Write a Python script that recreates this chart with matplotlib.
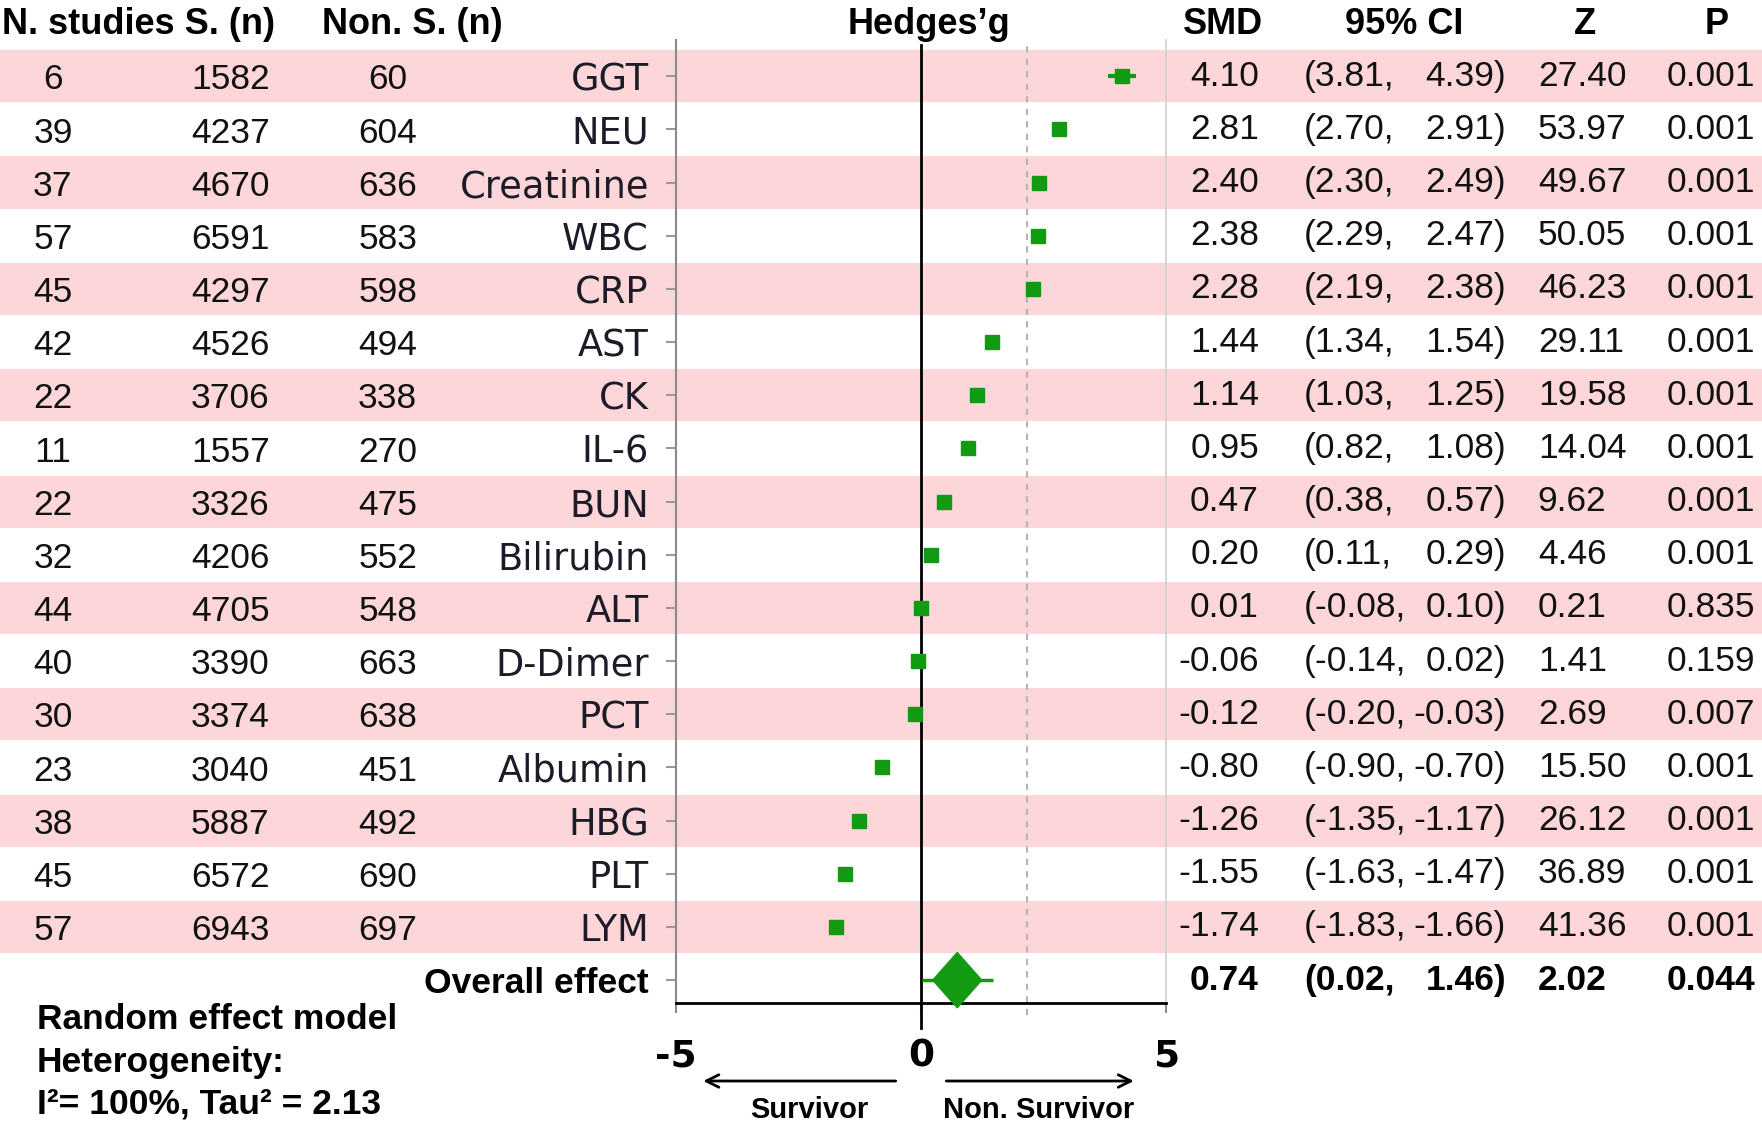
import matplotlib
matplotlib.use("Agg")
import matplotlib.pyplot as plt
from matplotlib.patches import Polygon

# ---------------- data ----------------
markers = ['GGT', 'NEU', 'Creatinine', 'WBC', 'CRP', 'AST', 'CK', 'IL-6', 'BUN',
           'Bilirubin', 'ALT', 'D-Dimer', 'PCT', 'Albumin', 'HBG', 'PLT', 'LYM']
n_studies = [6, 39, 37, 57, 45, 42, 22, 11, 22, 32, 44, 40, 30, 23, 38, 45, 57]
surv_n = [1582, 4237, 4670, 6591, 4297, 4526, 3706, 1557, 3326, 4206, 4705, 3390,
          3374, 3040, 5887, 6572, 6943]
nonsurv_n = [60, 604, 636, 583, 598, 494, 338, 270, 475, 552, 548, 663, 638, 451,
             492, 690, 697]
smd = [4.10, 2.81, 2.40, 2.38, 2.28, 1.44, 1.14, 0.95, 0.47, 0.20, 0.01, -0.06,
       -0.12, -0.80, -1.26, -1.55, -1.74]
ci_lo = [3.81, 2.70, 2.30, 2.29, 2.19, 1.34, 1.03, 0.82, 0.38, 0.11, -0.08, -0.14,
         -0.20, -0.90, -1.35, -1.63, -1.83]
ci_hi = [4.39, 2.91, 2.49, 2.47, 2.38, 1.54, 1.25, 1.08, 0.57, 0.29, 0.10, 0.02,
         -0.03, -0.70, -1.17, -1.47, -1.66]
z_vals = [27.40, 53.97, 49.67, 50.05, 46.23, 29.11, 19.58, 14.04, 9.62, 4.46, 0.21,
          1.41, 2.69, 15.50, 26.12, 36.89, 41.36]
p_vals = ['0.001', '0.001', '0.001', '0.001', '0.001', '0.001', '0.001', '0.001',
          '0.001', '0.001', '0.835', '0.159', '0.007', '0.001', '0.001', '0.001',
          '0.001']
overall_label = 'Overall effect'
overall_smd = 0.74
overall_lo = 0.02
overall_hi = 1.46
overall_z = 2.02
overall_p = '0.044'
ref_line = 2.16
x_ticks = [-5, 0, 5]

headers_left = ['N. studies S. (n)', 'Non. S. (n)']
header_mid = 'Hedges\u2019g'
headers_right = ['SMD', '95% CI', 'Z', 'P']
notes = ['Random effect model', 'Heterogeneity:', 'I\u00b2= 100%, Tau\u00b2 = 2.13']
arrow_labels = ['Survivor', 'Non. Survivor']

# ---------------- style ----------------
W, H = 1762, 1129
GREEN = '#139a13'
PINK = '#fcd6d9'
NUMFONT = 'Liberation Sans'
LABFONT = 'DejaVu Sans'

fig = plt.figure(figsize=(W / 100, H / 100), dpi=100)
fig.patch.set_facecolor('white')

n = len(markers)
rows = [n - i for i in range(n)]          # GGT at top (17) ... LYM (1)
overall_row = 0
ylim = (-0.43, n + 0.68)

ax_b, ax_t = 1 - 1003 / H, 1 - 40 / H
x_left, x_right = 676 / W, 1166 / W

# background axes for row bands and table text
bg = fig.add_axes([0, ax_b, 1, ax_t - ax_b])
bg.set_xlim(0, 1)
bg.set_ylim(*ylim)
bg.axis('off')
bg.set_zorder(0)
for i, r in enumerate(rows):
    if i % 2 == 0:
        bg.axhspan(r - 0.49, r + 0.49, color=PINK, lw=0)

# forest axes
ax = fig.add_axes([x_left, ax_b, x_right - x_left, ax_t - ax_b])
ax.set_zorder(1)
ax.patch.set_visible(False)
ax.set_xlim(-5, 5)
ax.set_ylim(*ylim)

# reference lines
ax.axvline(0, ymin=-0.026, ymax=0.995, color='black', lw=2, clip_on=False, zorder=2)
ax.axvline(ref_line, ymin=-0.0125, ymax=1, color='#b5b5b5', lw=1.5,
           ls=(0, (3, 3)), clip_on=False, zorder=1)

# study markers
ax.hlines(rows, ci_lo, ci_hi, color=GREEN, lw=3, zorder=3)
ax.plot(smd, rows, 's', color=GREEN, markersize=9.5, zorder=4)

# overall diamond
ax.hlines([overall_row], [overall_lo], [overall_hi], color=GREEN, lw=2.5, zorder=3)
dw, dh = 0.5, 0.52
diamond = Polygon([(overall_smd - dw, overall_row), (overall_smd, overall_row + dh),
                   (overall_smd + dw, overall_row), (overall_smd, overall_row - dh)],
                  closed=True, facecolor=GREEN, edgecolor=GREEN, zorder=4,
                  clip_on=False)
ax.add_patch(diamond)

# spines
ax.spines['top'].set_visible(False)
ax.spines['left'].set_color('#8a8a8a')
ax.spines['left'].set_linewidth(1.5)
ax.spines['right'].set_color('#cfcfcf')
ax.spines['right'].set_linewidth(1.2)
ax.spines['bottom'].set_color('black')
ax.spines['bottom'].set_linewidth(2)

# x ticks
ax.set_xticks(x_ticks)
ax.set_xticklabels([str(t) for t in x_ticks], fontfamily=LABFONT,
                   fontweight='bold', fontsize=27)
ax.tick_params(axis='x', length=7.5, width=1.5, color='#8a8a8a', pad=18)

# y tick labels (row names)
ax.set_yticks(rows + [overall_row])
ax.set_yticklabels(markers + [overall_label])
ax.tick_params(axis='y', length=7.5, width=1.5, color='#999999', pad=12)
for lab in ax.get_yticklabels():
    lab.set_fontfamily(LABFONT)
    lab.set_fontsize(26.5)
    lab.set_color('#1c1c28')
ov = ax.get_yticklabels()[-1]
ov.set_fontfamily(NUMFONT)
ov.set_fontweight('bold')
ov.set_fontsize(25.5)
ov.set_color('black')

# table columns
dy = -0.07
num_kw = dict(fontfamily=NUMFONT, fontsize=25.5, va='center', color='#111111')
x_nst, x_sn, x_nsn = 0.030, 0.1307, 0.220
x_smd, x_ci_l, x_ci_r, x_z, x_p = 0.7145, 0.740, 0.8548, 0.8728, 0.946
for i, r in enumerate(rows):
    bg.text(x_nst, r + dy, str(n_studies[i]), ha='center', **num_kw)
    bg.text(x_sn, r + dy, str(surv_n[i]), ha='center', **num_kw)
    bg.text(x_nsn, r + dy, str(nonsurv_n[i]), ha='center', **num_kw)
    bg.text(x_smd, r, f'{smd[i]:.2f}', ha='right', **num_kw)
    bg.text(x_ci_l, r, f'({ci_lo[i]:.2f},', ha='left', **num_kw)
    bg.text(x_ci_r, r, f'{ci_hi[i]:.2f})', ha='right', **num_kw)
    bg.text(x_z, r, f'{z_vals[i]:.2f}', ha='left', **num_kw)
    bg.text(x_p, r, p_vals[i], ha='left', **num_kw)

bold_kw = dict(num_kw, fontweight='bold', color='black')
bg.text(x_smd, overall_row, f'{overall_smd:.2f}', ha='right', **bold_kw)
bg.text(x_ci_l, overall_row, f'({overall_lo:.2f},', ha='left', **bold_kw)
bg.text(x_ci_r, overall_row, f'{overall_hi:.2f})', ha='right', **bold_kw)
bg.text(x_z, overall_row, f'{overall_z:.2f}', ha='left', **bold_kw)
bg.text(x_p, overall_row, overall_p, ha='left', **bold_kw)

# headers
hy = 1 - 24 / H
hkw = dict(fontfamily=NUMFONT, fontsize=26, fontweight='bold', va='center',
           color='black')
fig.text(0.001, hy, headers_left[0], ha='left', **hkw)
fig.text(0.183, hy, headers_left[1], ha='left', **hkw)
fig.text(0.527, hy, header_mid, ha='center', **hkw)
for xh, t in zip([0.694, 0.797, 0.8996, 0.974], headers_right):
    fig.text(xh, hy, t, ha='center', **hkw)

# notes bottom-left
for yy, t in zip([0.0974, 0.0593, 0.0221], notes):
    fig.text(0.021, yy, t, ha='left', va='center', fontfamily=NUMFONT,
             fontsize=25.5, fontweight='bold', color='black')

# direction arrows
ay = 1 - 1081 / H
akw = dict(arrowstyle='->,head_length=0.9,head_width=0.45', color='black', lw=2)
ax.annotate('', xy=(-4.5, ay), xytext=(-0.46, ay),
            xycoords=('data', 'figure fraction'),
            textcoords=('data', 'figure fraction'), arrowprops=akw)
ax.annotate('', xy=(4.4, ay), xytext=(0.46, ay),
            xycoords=('data', 'figure fraction'),
            textcoords=('data', 'figure fraction'), arrowprops=akw)
ly = 1 - 1110 / H
ax.annotate(arrow_labels[0], xy=(-2.27, ly), xycoords=('data', 'figure fraction'),
            ha='center', va='center', fontfamily=NUMFONT, fontsize=21,
            fontweight='bold')
ax.annotate(arrow_labels[1], xy=(2.41, ly), xycoords=('data', 'figure fraction'),
            ha='center', va='center', fontfamily=NUMFONT, fontsize=21,
            fontweight='bold')

fig.savefig('out.png', dpi=100, facecolor='white')
